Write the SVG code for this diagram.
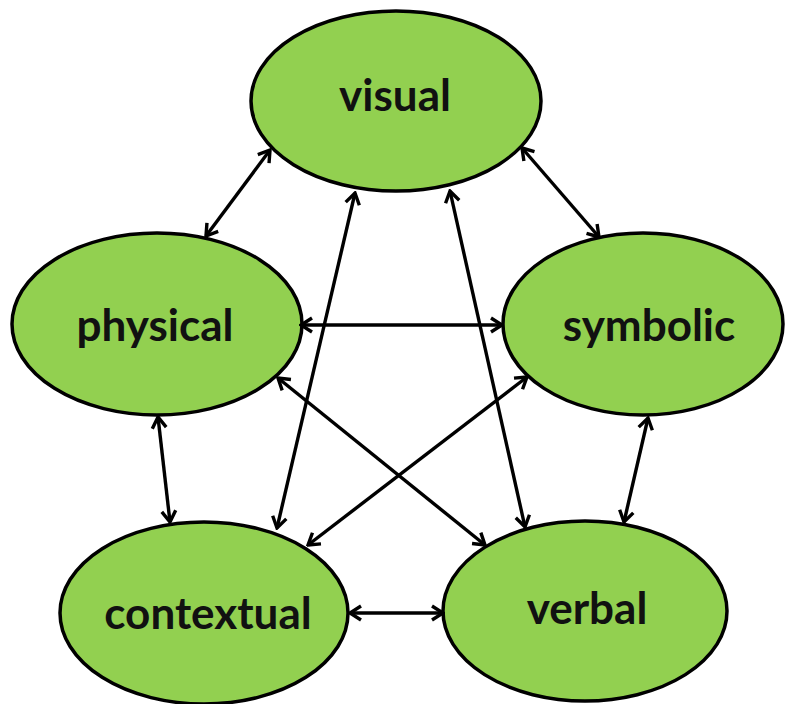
<svg xmlns="http://www.w3.org/2000/svg" width="785" height="704" viewBox="0 0 785 704">
<style>
.node{fill:#92D050;stroke:#000;stroke-width:3.5}
.lbl{font-family:Lato,"Liberation Sans",sans-serif;font-weight:bold;font-size:44px;fill:#111;text-anchor:middle}
.edge{stroke:#000;stroke-width:3.4;fill:none;marker-start:url(#ah);marker-end:url(#ah)}
</style>
<defs>
<marker id="ah" viewBox="-13 -9 15 18" markerWidth="15" markerHeight="18" refX="0" refY="0" orient="auto-start-reverse" markerUnits="userSpaceOnUse">
<path d="M-11,-7 L0,0 L-11,7" fill="none" stroke="#000" stroke-width="3.4"/>
</marker>
</defs>
<rect width="785" height="704" fill="#fff"/>
<g id="visual"><ellipse class="node" cx="396" cy="101" rx="145" ry="90"/><text class="lbl" x="395" y="111">visual</text></g>
<g id="physical"><ellipse class="node" cx="157" cy="324" rx="145" ry="91"/><text class="lbl" x="155" y="341">physical</text></g>
<g id="symbolic"><ellipse class="node" cx="643" cy="324" rx="140" ry="91"/><text class="lbl" x="649" y="341">symbolic</text></g>
<g id="contextual"><ellipse class="node" cx="204" cy="613" rx="144" ry="91"/><text class="lbl" x="208" y="629">contextual</text></g>
<g id="verbal"><ellipse class="node" cx="585" cy="611" rx="142" ry="90"/><text class="lbl" x="587" y="624">verbal</text></g>
<g id="connectors">
<line class="edge" x1="270" y1="150" x2="206" y2="236"/>
<line class="edge" x1="522" y1="148" x2="599" y2="237"/>
<line class="edge" x1="355" y1="193" x2="277" y2="528"/>
<line class="edge" x1="450" y1="191" x2="525" y2="527"/>
<line class="edge" x1="301" y1="325" x2="502" y2="325"/>
<line class="edge" x1="278" y1="378" x2="485" y2="545"/>
<line class="edge" x1="527" y1="377" x2="308" y2="545"/>
<line class="edge" x1="158" y1="417" x2="170" y2="522"/>
<line class="edge" x1="648" y1="418" x2="624" y2="522"/>
<line class="edge" x1="350" y1="613" x2="443" y2="613"/>
</g>
</svg>
